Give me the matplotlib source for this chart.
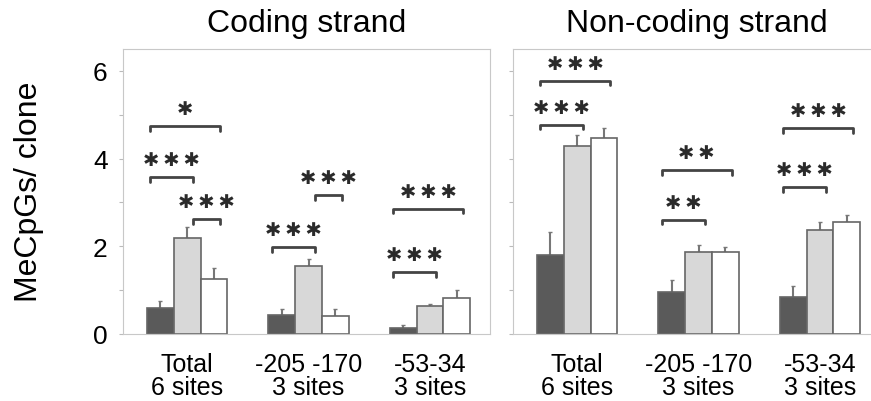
import numpy as np
from matplotlib import pyplot as plt

plt.rcParams['font.family'] = ['Liberation Sans', 'DejaVu Sans']

# Site groups shown on the x axis
groups = ['Total\n6 sites', '-205 -170\n3 sites', '-53-34\n3 sites']

# MeCpGs per clone, coding strand (dark, dotted gray, white bars)
coding_dark = [0.59, 0.43, 0.14]
coding_gray = [2.18, 1.54, 0.63]
coding_white = [1.25, 0.42, 0.81]
coding_dark_err = [0.17, 0.14, 0.07]
coding_gray_err = [0.25, 0.17, 0.05]
coding_white_err = [0.25, 0.14, 0.20]

# MeCpGs per clone, non-coding strand
noncoding_dark = [1.80, 0.95, 0.85]
noncoding_gray = [4.28, 1.88, 2.37]
noncoding_white = [4.46, 1.88, 2.55]
noncoding_dark_err = [0.52, 0.29, 0.24]
noncoding_gray_err = [0.27, 0.14, 0.18]
noncoding_white_err = [0.23, 0.10, 0.17]

# Significance brackets: (group, first bar, last bar, height, stars)
coding_brackets = [
    (0, 0, 2, 4.74, 1), (0, 0, 1, 3.57, 3), (0, 1, 2, 2.62, 3),
    (1, 0, 1, 1.98, 3), (1, 1, 2, 3.16, 3),
    (2, 0, 1, 1.41, 3), (2, 0, 2, 2.85, 3),
]
noncoding_brackets = [
    (0, 0, 2, 5.78, 3), (0, 0, 1, 4.77, 3),
    (1, 0, 2, 3.73, 2), (1, 0, 1, 2.60, 2),
    (2, 0, 2, 4.69, 3), (2, 0, 1, 3.35, 3),
]

bar_colors = ['#5a5a5a', '#d8d8d8', 'white']
width = 0.222
offsets = [-width, 0, width]


def draw_panel(ax, series, errors, brackets, title):
    x = np.arange(len(groups))
    for i in range(3):
        ax.errorbar(x + offsets[i], series[i], yerr=[np.zeros(len(x)), errors[i]],
                    fmt='none', ecolor='#777777', elinewidth=1.5, capsize=1.2, zorder=1)
        ax.bar(x + offsets[i], series[i], width, color=bar_colors[i],
               edgecolor='#666666', linewidth=1.2, zorder=2)

    for g, a, b, y, n in brackets:
        x0 = g + offsets[a] + (-0.08 if a == 0 else 0.05)
        x1 = g + offsets[b] + 0.05
        hook = 0.1
        ax.plot([x0, x0, x1, x1], [y - hook, y, y, y - hook], color='#444444',
                lw=2, solid_capstyle='round', solid_joinstyle='round', zorder=3)
        ax.text((x0 + x1) / 2, y + 0.40, '\u2009'.join(['\u2731'] * n), ha='center', va='center',
                fontsize=14, fontweight='bold', color='#2a2a2a', family='DejaVu Sans')

    ax.set_xlim(-0.527, 2.494)
    ax.set_ylim(0, 6.5)
    ax.set_xticks(x)
    ax.set_xticklabels(groups, fontsize=18)
    for lbl in ax.get_xticklabels():
        lbl.set_linespacing(0.95)
    ax.tick_params(axis='x', length=0, pad=13)
    ax.set_yticks(range(7))
    ax.tick_params(axis='y', length=3, color='#bbbbbb', pad=8, labelsize=19)
    for s in ax.spines.values():
        s.set_color('#c8c8c8')
    ax.set_title(title, fontsize=23, pad=13)


fig = plt.figure(figsize=(8.71, 4.02), dpi=100)
ax1 = fig.add_axes([123 / 871, 67 / 402, 367 / 871, 285 / 402])
ax2 = fig.add_axes([513 / 871, 67 / 402, 367 / 871, 285 / 402])

draw_panel(ax1, [coding_dark, coding_gray, coding_white],
           [coding_dark_err, coding_gray_err, coding_white_err],
           coding_brackets, 'Coding strand')
draw_panel(ax2, [noncoding_dark, noncoding_gray, noncoding_white],
           [noncoding_dark_err, noncoding_gray_err, noncoding_white_err],
           noncoding_brackets, 'Non-coding strand')

ax1.set_yticklabels(['0', '', '2', '', '4', '', '6'])
ax2.set_yticklabels([])

fig.text(29 / 871, 1 - 192 / 402, 'MeCpGs/ clone', rotation=90, ha='center', va='center',
         fontsize=23)

fig.savefig('out.png', dpi=100)
